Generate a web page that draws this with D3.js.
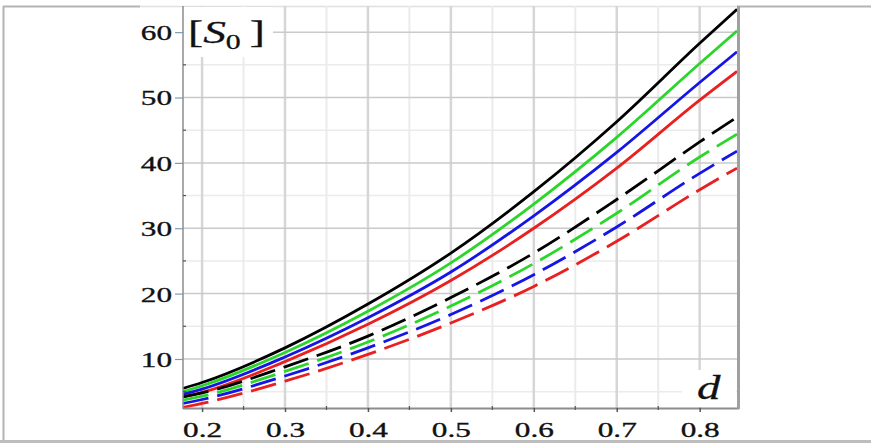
<!DOCTYPE html>
<html>
<head>
<meta charset="utf-8">
<script src="https://cdn.jsdelivr.net/npm/d3@7"></script>
<style>
  html, body { margin: 0; padding: 0; background: #fff; }
  svg { display: block; }
</style>
</head>
<body>
<svg id="chart" width="871" height="444"></svg>
<script>
// ---- data ----
const dValues = [0.177, 0.2, 0.3, 0.4, 0.5, 0.6, 0.7, 0.8, 0.845];
const solidBlack = [5.5, 6.4, 11.7, 18.4, 26.2, 35.6, 46.3, 58.3, 63.5];
const solidGreen = [5.0, 5.9, 11.0, 17.3, 24.7, 33.7, 43.9, 55.2, 60.2];
const solidBlue  = [4.6, 5.4, 10.3, 16.3, 23.3, 31.9, 41.6, 52.3, 57.0];
const solidRed   = [4.2, 4.9, 9.6, 15.3, 22.0, 30.0, 39.2, 49.6, 54.0];
const dashBlack  = [4.2, 4.8, 8.8, 13.5, 19.4, 26.2, 34.4, 43.2, 47.0];
const dashGreen  = [3.7, 4.3, 8.1, 12.6, 18.1, 24.6, 32.3, 40.9, 44.4];
const dashBlue   = [3.2, 3.8, 7.4, 11.7, 16.8, 22.9, 30.2, 38.4, 41.8];
const dashRed    = [2.6, 3.2, 6.6, 10.7, 15.5, 21.1, 28.0, 35.9, 39.2];
const xTicks = [0.2, 0.3, 0.4, 0.5, 0.6, 0.7, 0.8];
const xTickLabels = ["0.2", "0.3", "0.4", "0.5", "0.6", "0.7", "0.8"];
const xMinor = [0.25, 0.35, 0.45, 0.55, 0.65, 0.75];
const yTicks = [10, 20, 30, 40, 50, 60];
const yTickLabels = ["10", "20", "30", "40", "50", "60"];
const yMinor = [5, 15, 25, 35, 45, 55];
const yLabel = "S";
const ySub = "0";
const xLabel = "d";

const series = [
  { values: solidBlack, color: "#000000", dashed: false },
  { values: solidGreen, color: "#2bd62b", dashed: false },
  { values: solidBlue,  color: "#1515e6", dashed: false },
  { values: solidRed,   color: "#e82020", dashed: false },
  { values: dashBlack,  color: "#000000", dashed: true },
  { values: dashGreen,  color: "#2bd62b", dashed: true },
  { values: dashBlue,   color: "#1515e6", dashed: true },
  { values: dashRed,    color: "#e82020", dashed: true }
];

// ---- layout ----
const L = 183, R = 737, T = 6, B = 408;
const SX = 1.42; // horizontal text stretch seen in the reference
const svg = d3.select("#chart");
const x = d3.scaleLinear().domain([0.177, 0.845]).range([L, R]);
const y = d3.scaleLinear().domain([2.5, 64]).range([B, T]);
const serif = "'Liberation Serif', 'DejaVu Serif', serif";

// outer frame (document cell)
svg.append("line").attr("x1", 3).attr("x2", 140).attr("y1", 6.5).attr("y2", 6.5).attr("stroke", "#b4b4b4").attr("stroke-width", 2);
svg.append("line").attr("x1", 140).attr("x2", 737).attr("y1", 6.5).attr("y2", 6.5).attr("stroke", "#e0e0e0").attr("stroke-width", 1.5);
svg.append("line").attr("x1", 737).attr("x2", 871).attr("y1", 6.5).attr("y2", 6.5).attr("stroke", "#b4b4b4").attr("stroke-width", 2);
svg.append("line").attr("x1", 3.5).attr("x2", 3.5).attr("y1", 6).attr("y2", 441).attr("stroke", "#b4b4b4").attr("stroke-width", 2);
svg.append("line").attr("x1", 0).attr("x2", 871).attr("y1", 441.5).attr("y2", 441.5).attr("stroke", "#bdbdbd").attr("stroke-width", 3);

// grid
const grid = svg.append("g");
grid.selectAll(".vmin").data(xMinor).join("line")
  .attr("x1", d => x(d)).attr("x2", d => x(d)).attr("y1", T).attr("y2", B)
  .attr("stroke", "#ebebeb").attr("stroke-width", 2);
grid.selectAll(".hmin").data(yMinor).join("line")
  .attr("x1", L).attr("x2", R).attr("y1", d => y(d)).attr("y2", d => y(d))
  .attr("stroke", "#ebebeb").attr("stroke-width", 1.5);
grid.selectAll(".vmaj").data(xTicks).join("line")
  .attr("x1", d => x(d)).attr("x2", d => x(d)).attr("y1", T).attr("y2", B)
  .attr("stroke", "#d6d6d6").attr("stroke-width", 2.5);
grid.selectAll(".hmaj").data(yTicks).join("line")
  .attr("x1", L).attr("x2", R).attr("y1", d => y(d)).attr("y2", d => y(d))
  .attr("stroke", "#cacaca").attr("stroke-width", 1.5);

// label backgrounds
svg.append("rect").attr("x", L + 1).attr("y", T + 1).attr("width", 89).attr("height", 50).attr("fill", "#fff");
svg.append("rect").attr("x", 682).attr("y", 370).attr("width", R - 683).attr("height", B - 371).attr("fill", "#fff");

// curves
svg.append("clipPath").attr("id", "clip").append("rect")
  .attr("x", L).attr("y", T).attr("width", R - L).attr("height", B - T);
const line = d3.line().x((d, i) => x(dValues[i])).y(d => y(d)).curve(d3.curveMonotoneX);
svg.append("g").attr("clip-path", "url(#clip)")
  .selectAll("path").data(series).join("path")
  .attr("d", s => line(s.values))
  .attr("fill", "none")
  .attr("stroke", s => s.color)
  .attr("stroke-width", 2.8)
  .attr("stroke-dasharray", s => s.dashed ? "26,9" : null);

// axes frame
svg.append("line").attr("x1", L).attr("x2", L).attr("y1", T).attr("y2", B + 1).attr("stroke", "#8c8c8c").attr("stroke-width", 1.5);
svg.append("line").attr("x1", L).attr("x2", R + 2).attr("y1", B + 0.5).attr("y2", B + 0.5).attr("stroke", "#8c8c8c").attr("stroke-width", 2);
svg.append("line").attr("x1", R + 1.5).attr("x2", R + 1.5).attr("y1", T).attr("y2", B + 1).attr("stroke", "#a0a0a0").attr("stroke-width", 3);

// y axis
const yAxis = d3.axisLeft(y).tickValues(yTicks).tickFormat((d, i) => yTickLabels[i]).tickSize(8).tickPadding(0);
const yg = svg.append("g").attr("transform", `translate(${L},0)`).call(yAxis);
yg.select(".domain").remove();
yg.selectAll(".tick line").attr("stroke", "#7d9cb0").attr("stroke-width", 1.2);
yg.selectAll(".tick text")
  .attr("x", -11 / SX).attr("dy", "0.34em")
  .attr("transform", `scale(${SX},1)`)
  .attr("fill", "#111").attr("stroke", "#111").attr("stroke-width", 0.35)
  .style("font-family", serif)
  .style("font-size", "22px");
svg.selectAll(".yminor").data(yMinor).join("line")
  .attr("x1", L).attr("x2", L + 3).attr("y1", d => y(d)).attr("y2", d => y(d))
  .attr("stroke", "#555").attr("stroke-width", 1.2);

// x axis
const xAxis = d3.axisBottom(x).tickValues(xTicks).tickFormat((d, i) => xTickLabels[i]).tickSize(4).tickPadding(0);
const xg = svg.append("g").attr("transform", `translate(0,${B})`).call(xAxis);
xg.select(".domain").remove();
xg.selectAll(".tick line").attr("stroke", "#555").attr("stroke-width", 1.5);
xg.selectAll(".tick text")
  .attr("y", 29).attr("dy", 0)
  .attr("transform", `scale(${SX},1)`)
  .attr("fill", "#111").attr("stroke", "#111").attr("stroke-width", 0.35)
  .style("font-family", serif)
  .style("font-size", "22px");
svg.selectAll(".xminor").data(xMinor).join("line")
  .attr("x1", d => x(d)).attr("x2", d => x(d)).attr("y1", B - 2).attr("y2", B + 2)
  .attr("stroke", "#555").attr("stroke-width", 1.2);

// axis titles
const yt = svg.append("text")
  .attr("transform", `translate(188,43) scale(${SX},1)`)
  .attr("fill", "#111").attr("stroke", "#111").attr("stroke-width", 0.3)
  .style("font-family", serif)
  .style("font-size", "32px");
yt.append("tspan").text("[");
yt.append("tspan").style("font-style", "italic").text(yLabel);
yt.append("tspan").attr("dy", 6).style("font-size", "21px").text(ySub);
yt.append("tspan").attr("dy", -6).text("\u2009]");

svg.append("text")
  .attr("transform", `translate(697,399) scale(${SX},1)`)
  .attr("fill", "#111").attr("stroke", "#111").attr("stroke-width", 0.3)
  .style("font-family", serif)
  .style("font-style", "italic")
  .style("font-size", "33px")
  .text(xLabel);
</script>
</body>
</html>
